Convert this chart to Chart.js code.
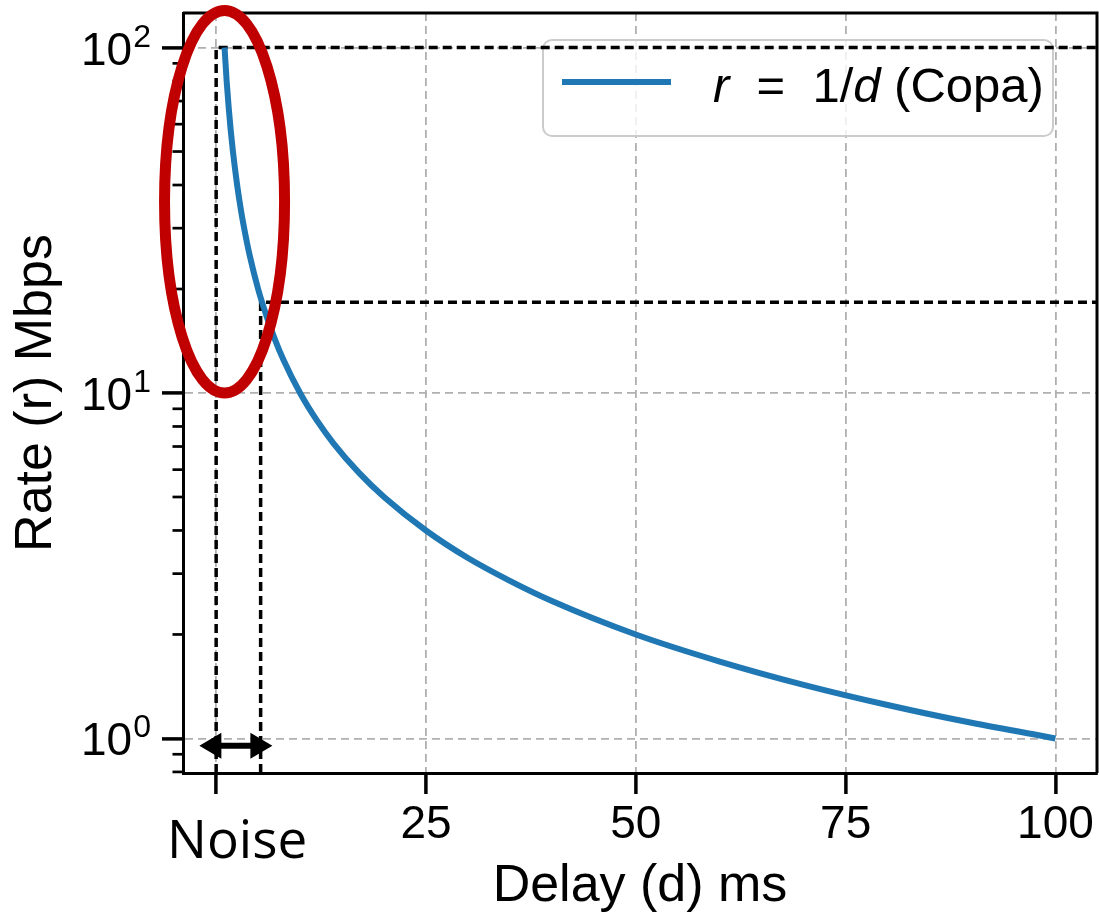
<!DOCTYPE html>
<html lang="en">
<head>
<meta charset="UTF-8">
<title>Rate vs Delay (Copa)</title>
<style>
  body { margin: 0; background: #fff; }
  canvas { display: block; }
</style>
<script src="https://cdn.jsdelivr.net/npm/chart.js"></script>
</head>
<body>
<canvas id="chart" width="1099" height="920"></canvas>
<script>
// r = 1/d (Copa) curve
const delays = [1, 1.25, 1.5, 1.75, 2, 2.5, 3, 3.5, 4, 5, 6, 7, 8, 10, 12, 14, 17, 20, 25, 30, 35, 40, 50, 60, 70, 80, 90, 100];
const rates  = [100, 80, 66.7, 57.1, 50, 40, 33.3, 28.6, 25, 20, 16.7, 14.3, 12.5, 10, 8.33, 7.14, 5.88, 5, 4, 3.33, 2.86, 2.5, 2, 1.67, 1.43, 1.25, 1.11, 1];

const xTicks = [0, 25, 50, 75, 100];
const xTickLabels = ['', '25', '50', '75', '100'];
const yTicks = [1, 10, 100];
const yExponents = ['0', '1', '2'];
const yMinorTicks = [0.8, 0.9, 2, 3, 4, 5, 6, 7, 8, 9, 20, 30, 40, 50, 60, 70, 80, 90];

const xMin = -3.95, xMax = 104.95;
const yMin = 0.7943, yMax = 125.89;

// dashed guide lines
const peakDelay = 0, peakRate = 100;
const noiseDelay = 5.3, noiseRate = 18.3;

// noise arrow (delay range) and red ellipse
const arrowFrom = -2, arrowTo = 6.7, arrowRate = 0.952;
const ellipseDelay = 1, ellipseHalfWidth = 7.15, ellipseRateLow = 10, ellipseRateHigh = 128;

const legendText = [['r', true], ['  =  1/', false], ['d', true], [' (Copa)', false]];

const FONT = '"Liberation Sans", Arial, sans-serif';
const BLUE = '#1f77b4';

function drawLegend(chart) {
    const ctx = chart.ctx;
    const x = 543, y = 40, w = 510, h = 96;
    ctx.save();
    ctx.beginPath();
    ctx.roundRect(x, y, w, h, 9);
    ctx.fillStyle = 'rgba(255,255,255,0.8)';
    ctx.fill();
    ctx.lineWidth = 2;
    ctx.strokeStyle = '#cccccc';
    ctx.stroke();

    ctx.beginPath();
    ctx.moveTo(562, 82);
    ctx.lineTo(671, 82);
    ctx.lineWidth = 6;
    ctx.strokeStyle = BLUE;
    ctx.stroke();

    let tx = 713;
    ctx.fillStyle = '#000';
    ctx.textBaseline = 'alphabetic';
    ctx.textAlign = 'left';
    legendText.forEach(([s, italic]) => {
        ctx.font = (italic ? 'italic ' : '') + '49px ' + FONT;
        ctx.fillText(s, tx, 102);
        tx += ctx.measureText(s).width;
    });
    ctx.restore();
}

function drawArrow(chart) {
    const ctx = chart.ctx;
    const xs = chart.scales.x, ys = chart.scales.y;
    const x1 = xs.getPixelForValue(arrowFrom), x2 = xs.getPixelForValue(arrowTo);
    const y = ys.getPixelForValue(arrowRate);
    const head = 22, half = 13;
    ctx.save();
    ctx.fillStyle = '#000';
    ctx.strokeStyle = '#000';
    ctx.lineWidth = 6;
    ctx.beginPath();
    ctx.moveTo(x1 + head - 2, y);
    ctx.lineTo(x2 - head + 2, y);
    ctx.stroke();
    ctx.beginPath();
    ctx.moveTo(x1, y); ctx.lineTo(x1 + head, y - half); ctx.lineTo(x1 + head, y + half); ctx.closePath();
    ctx.moveTo(x2, y); ctx.lineTo(x2 - head, y - half); ctx.lineTo(x2 - head, y + half); ctx.closePath();
    ctx.fill();
    ctx.restore();
}

const decorations = {
    id: 'decorations',
    beforeDatasetsDraw(chart) {
        drawLegend(chart);
    },
    afterDatasetsDraw(chart) {
        const ctx = chart.ctx;
        const a = chart.chartArea;
        // top and right spines
        ctx.save();
        ctx.strokeStyle = '#000';
        ctx.lineWidth = 3;
        ctx.beginPath();
        ctx.moveTo(a.left, a.top);
        ctx.lineTo(a.right, a.top);
        ctx.lineTo(a.right, a.bottom);
        ctx.stroke();
        ctx.restore();
        drawArrow(chart);
    },
    afterDraw(chart) {
        const ctx = chart.ctx;
        const a = chart.chartArea;
        const xs = chart.scales.x, ys = chart.scales.y;
        ctx.save();

        // minor log ticks
        ctx.strokeStyle = '#000';
        ctx.lineWidth = 2.7;
        yMinorTicks.forEach(v => {
            const py = ys.getPixelForValue(v);
            ctx.beginPath();
            ctx.moveTo(a.left - 10.5, py);
            ctx.lineTo(a.left, py);
            ctx.stroke();
        });

        // y tick labels 10^k
        ctx.fillStyle = '#000';
        ctx.textAlign = 'right';
        ctx.textBaseline = 'alphabetic';
        yTicks.forEach((v, i) => {
            const py = ys.getPixelForValue(v);
            ctx.font = '32px ' + FONT;
            const supW = ctx.measureText(yExponents[i]).width;
            ctx.fillText(yExponents[i], 151, py - 1);
            ctx.font = '46px ' + FONT;
            ctx.fillText('10', 151 - supW - 1, py + 17);
        });

        // "Noise" label under the axis
        ctx.textAlign = 'center';
        ctx.font = '53px "Open Sans", sans-serif';
        ctx.fillText('Noise', xs.getPixelForValue(2.5), 858);

        // red ellipse
        const cx = xs.getPixelForValue(ellipseDelay);
        const rx = xs.getPixelForValue(ellipseDelay + ellipseHalfWidth) - cx;
        const top = ys.getPixelForValue(ellipseRateHigh);
        const bottom = ys.getPixelForValue(ellipseRateLow);
        ctx.beginPath();
        ctx.ellipse(cx, (top + bottom) / 2, rx, (bottom - top) / 2, 0, 0, Math.PI * 2);
        ctx.strokeStyle = '#c00000';
        ctx.lineWidth = 11;
        ctx.stroke();
        ctx.restore();
    }
};

const curve = delays.map((d, i) => ({x: d, y: rates[i]}));
const guidePeak = [{x: peakDelay, y: yMin}, {x: peakDelay, y: peakRate}, {x: xMax, y: peakRate}];
const guideNoise = [{x: noiseDelay, y: yMin}, {x: noiseDelay, y: noiseRate}, {x: xMax, y: noiseRate}];

new Chart(document.getElementById('chart'), {
    type: 'scatter',
    data: {
        datasets: [
            {
                label: 'r = 1/d (Copa)',
                data: curve,
                showLine: true,
                borderColor: BLUE,
                borderWidth: 6,
                pointRadius: 0,
                cubicInterpolationMode: 'monotone'
            },
            {
                data: guidePeak,
                showLine: true,
                borderColor: '#000',
                borderWidth: 3.5,
                borderDash: [9, 5],
                pointRadius: 0
            },
            {
                data: guideNoise,
                showLine: true,
                borderColor: '#000',
                borderWidth: 3.5,
                borderDash: [9, 5],
                pointRadius: 0
            }
        ]
    },
    options: {
        responsive: false,
        animation: false,
        layout: { padding: { top: 13, right: 2, left: 0, bottom: 0 } },
        plugins: {
            legend: { display: false },
            tooltip: { enabled: false }
        },
        scales: {
            x: {
                type: 'linear',
                min: xMin,
                max: xMax,
                afterBuildTicks: s => { s.ticks = xTicks.map(v => ({value: v})); },
                afterFit: s => { s.height = 147; },
                ticks: {
                    callback: (v, i) => xTickLabels[i],
                    font: { family: FONT, size: 46 },
                    color: '#000',
                    padding: 4,
                    maxRotation: 0
                },
                grid: {
                    color: '#b0b0b0',
                    lineWidth: 1.8,
                    tickColor: '#000',
                    tickWidth: 3.5,
                    tickLength: 21
                },
                border: { display: true, color: '#000', width: 3, dash: [8, 5] },
                title: {
                    display: true,
                    text: 'Delay (d) ms',
                    font: { family: FONT, size: 52 },
                    color: '#000',
                    padding: { top: 0, bottom: 2 }
                }
            },
            y: {
                type: 'logarithmic',
                min: yMin,
                max: yMax,
                afterBuildTicks: s => { s.ticks = yTicks.map(v => ({value: v, major: true})); },
                afterFit: s => { s.width = 183; },
                ticks: { display: false },
                grid: {
                    color: '#b0b0b0',
                    lineWidth: 1.8,
                    tickColor: '#000',
                    tickWidth: 3.5,
                    tickLength: 21
                },
                border: { display: true, color: '#000', width: 3, dash: [8, 5] },
                title: {
                    display: true,
                    text: 'Rate (r) Mbps',
                    font: { family: FONT, size: 52 },
                    color: '#000',
                    padding: { top: 5, bottom: 0 }
                }
            }
        }
    },
    plugins: [decorations]
});
</script>
</body>
</html>
